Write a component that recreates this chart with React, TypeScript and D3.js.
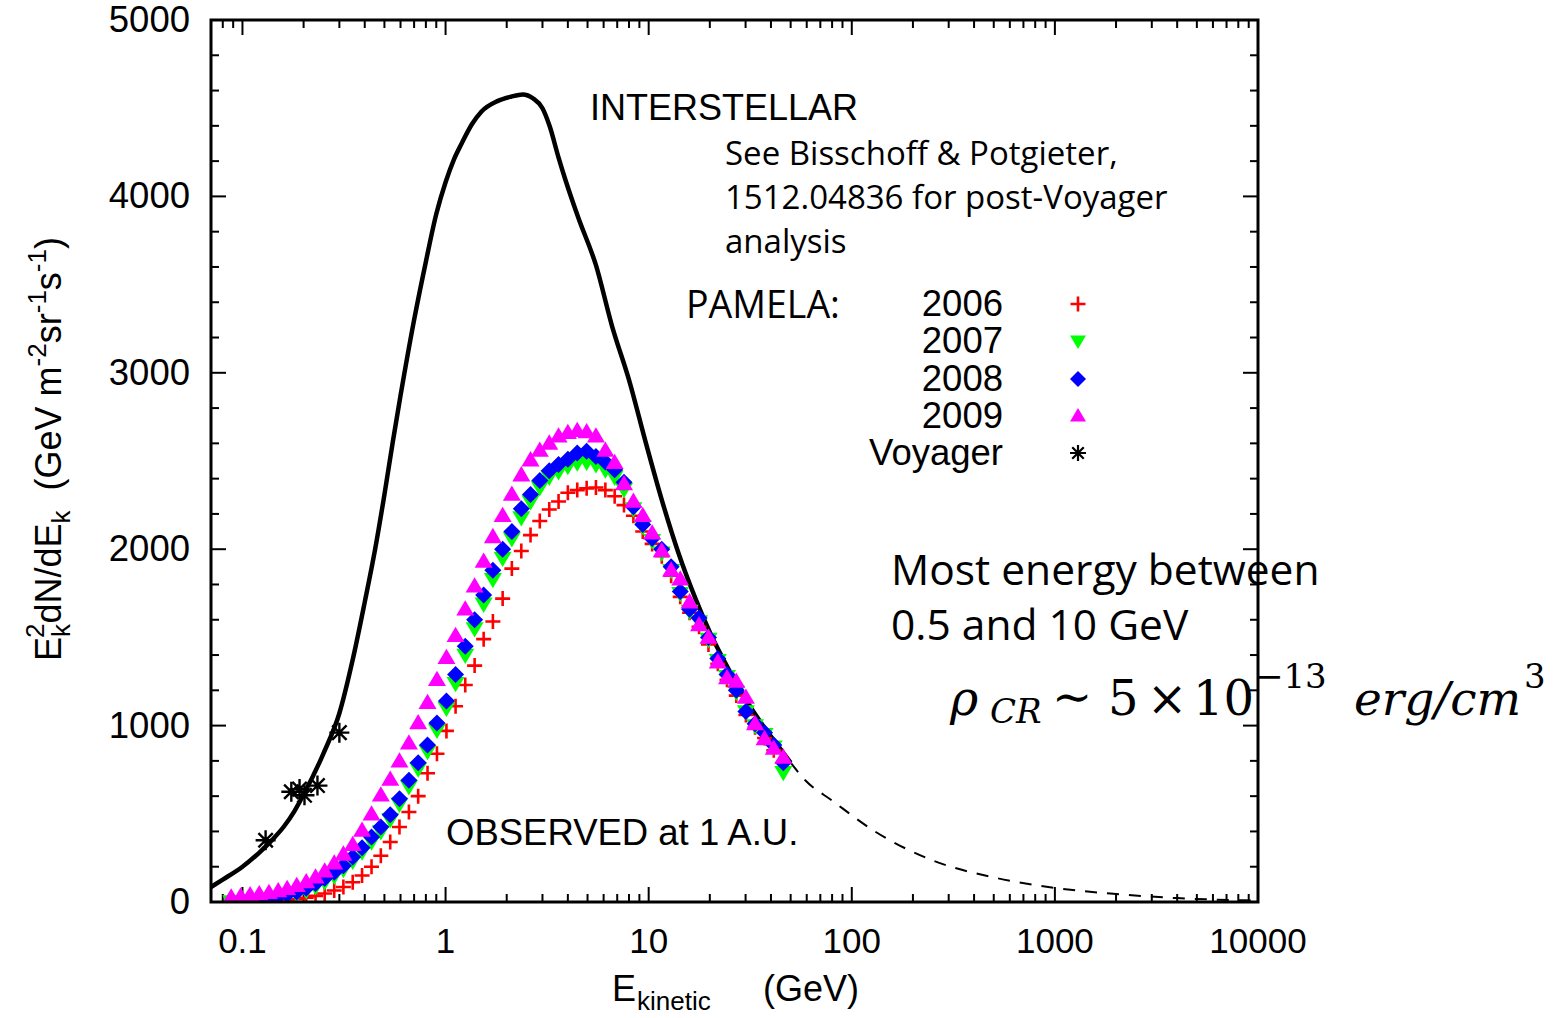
import React from "react";
import * as d3 from "d3";

// ---------- data ----------
const isE = [0.07, 0.08, 0.1, 0.12, 0.14, 0.16, 0.18, 0.2, 0.25, 0.3, 0.35, 0.4, 0.45, 0.5, 0.55, 0.6, 0.7, 0.8, 0.9, 1.0, 1.1, 1.2, 1.35, 1.5, 1.8, 2.1, 2.4, 2.7, 3.0, 3.25, 3.6, 3.9, 4.5, 5.5, 6.6, 8.0, 9.7, 11.6, 14, 17, 20, 25, 30, 36, 44, 50];
const isV = [85, 127, 200, 276, 352, 428, 514, 609, 840, 1070, 1380, 1700, 2000, 2310, 2610, 2870, 3300, 3630, 3900, 4080, 4210, 4300, 4410, 4480, 4540, 4565, 4578, 4555, 4500, 4400, 4220, 4090, 3880, 3610, 3265, 2960, 2600, 2280, 1980, 1720, 1530, 1310, 1150, 1010, 875, 790];
const dsE = [50, 59, 80, 130, 245, 520, 1000, 2000, 4000, 10000];
const dsV = [790, 690, 575, 400, 240, 135, 80, 45, 22, 8];

const pamE = [0.088, 0.098, 0.109, 0.121, 0.135, 0.150, 0.166, 0.185, 0.206, 0.229, 0.254, 0.283, 0.314, 0.349, 0.388, 0.432, 0.480, 0.534, 0.593, 0.660, 0.733, 0.815, 0.907, 1.01, 1.12, 1.25, 1.39, 1.54, 1.71, 1.91, 2.12, 2.36, 2.62, 2.91, 3.24, 3.60, 4.00, 4.45, 4.95, 5.50, 6.12, 6.80, 7.56, 8.41, 9.35, 10.4, 11.6, 12.9, 14.3, 15.9, 17.7, 19.7, 21.9, 24.3, 27.0, 30.1, 33.4, 37.2, 41.3, 46.0];
const p2006 = [0, 0, 1, 2, 4, 7, 11, 16, 24, 35, 48, 65, 85, 112, 150, 200, 262, 340, 425, 510, 600, 730, 840, 970, 1110, 1230, 1340, 1490, 1590, 1720, 1890, 1990, 2080, 2160, 2225, 2270, 2320, 2335, 2345, 2350, 2335, 2300, 2250, 2190, 2100, 2030, 1960, 1850, 1730, 1640, 1560, 1460, 1350, 1260, 1170, 1060, 990, 930, 860, 790];
const p2007 = [2, 4, 8, 13, 19, 26, 35, 47, 65, 88, 115, 148, 185, 232, 285, 342, 400, 468, 555, 655, 755, 855, 975, 1100, 1240, 1400, 1550, 1690, 1830, 1950, 2060, 2180, 2270, 2350, 2410, 2440, 2470, 2490, 2495, 2480, 2450, 2410, 2340, 2230, 2130, 2050, 1980, 1880, 1750, 1650, 1590, 1490, 1370, 1280, 1190, 1080, 1000, 950, 880, 735];
const p2008 = [3, 6, 11, 17, 25, 33, 43, 57, 78, 105, 135, 168, 205, 255, 308, 368, 425, 495, 585, 690, 790, 890, 1015, 1140, 1290, 1450, 1600, 1740, 1880, 2000, 2100, 2230, 2310, 2390, 2445, 2480, 2510, 2545, 2555, 2525, 2495, 2450, 2380, 2240, 2140, 2060, 2000, 1900, 1760, 1660, 1610, 1500, 1380, 1290, 1200, 1080, 1010, 960, 890, 790];
const p2009 = [27, 33, 40, 46, 53, 63, 75, 92, 113, 140, 175, 220, 270, 325, 405, 498, 605, 695, 798, 900, 1015, 1130, 1260, 1385, 1510, 1660, 1790, 1930, 2070, 2190, 2310, 2420, 2505, 2560, 2600, 2640, 2660, 2672, 2665, 2640, 2560, 2490, 2370, 2270, 2190, 2090, 1990, 1880, 1830, 1700, 1570, 1500, 1360, 1270, 1250, 1160, 1010, 925, 870, 820];

const voyE = [0.13, 0.174, 0.191, 0.202, 0.234, 0.30];
const voyV = [350, 625, 640, 605, 660, 960];

const xMajor = [0.1, 1, 10, 100, 1000, 10000];
const xMajorLabels = ["0.1", "1", "10", "100", "1000", "10000"];
const yMajor = [0, 1000, 2000, 3000, 4000, 5000];
const yMajorLabels = ["0", "1000", "2000", "3000", "4000", "5000"];

const legendLabels = ["2006", "2007", "2008", "2009", "Voyager"];

// ---------- layout ----------
const W = 1566, H = 1018;
const L = 211, R = 1258, T = 20, B = 902;
const x = d3.scaleLog().domain([0.07, 10000]).range([L, R]);
const y = d3.scaleLinear().domain([0, 5000]).range([B, T]);

const SANS = "'Liberation Sans', Arial, Helvetica, sans-serif";
const CAL = "'Open Sans', 'Noto Sans', sans-serif";
const SERIF = "'DejaVu Serif', 'Liberation Serif', serif";

function Plus({ cx, cy, s = 7.5 }: any) {
  return <path d={`M${cx - s},${cy}H${cx + s}M${cx},${cy - s}V${cy + s}`} stroke="#ff0000" strokeWidth={2.6} fill="none" />;
}
function TriDown({ cx, cy, s = 9 }: any) {
  return <path d={`M${cx - s},${cy - s * 0.7}L${cx + s},${cy - s * 0.7}L${cx},${cy + s}Z`} fill="#00ff00" />;
}
function Diamond({ cx, cy, s = 8.5 }: any) {
  return <path d={`M${cx},${cy - s}L${cx + s},${cy}L${cx},${cy + s}L${cx - s},${cy}Z`} fill="#0000ff" />;
}
function TriUp({ cx, cy, s = 9 }: any) {
  return <path d={`M${cx - s},${cy + s * 0.7}L${cx + s},${cy + s * 0.7}L${cx},${cy - s}Z`} fill="#ff00ff" />;
}
function Star({ cx, cy, s = 10, w = 2.4 }: any) {
  const d = s * 0.72;
  return (
    <path
      d={`M${cx - s},${cy}H${cx + s}M${cx},${cy - s}V${cy + s}M${cx - d},${cy - d}L${cx + d},${cy + d}M${cx - d},${cy + d}L${cx + d},${cy - d}`}
      stroke="#000" strokeWidth={w} fill="none"
    />
  );
}

export default function App() {
  const line = d3
    .line<[number, number]>()
    .x((d) => x(d[0]))
    .y((d) => y(d[1]))
    .curve(d3.curveMonotoneX);

  const solidPath = line(isE.map((e, i) => [e, isV[i]] as [number, number])) || "";
  const dashPath = line(dsE.map((e, i) => [e, dsV[i]] as [number, number])) || "";

  const xTicks = x.ticks().filter((t) => t >= 0.07 && t <= 10000);
  const isMajorX = (t: number) => Math.abs(Math.log10(t) - Math.round(Math.log10(t))) < 1e-6;
  const yTicks = d3.range(0, 5001, 200);

  const legendY = [304, 341, 379, 416, 453];
  const legendTextY = [316, 353, 391, 428, 465];
  const legendX = 1078;

  return (
    <svg width={W} height={H} style={{ position: "absolute", left: 0, top: 0, background: "#fff" }}>
      <defs>
        <clipPath id="plotclip">
          <rect x={L} y={T} width={R - L} height={B - T} />
        </clipPath>
      </defs>
      <rect x={0} y={0} width={W} height={H} fill="#fff" />

      {/* ticks */}
      <g stroke="#000" strokeWidth={2}>
        {xTicks.map((t, i) => {
          const len = isMajorX(t) ? 15 : 8;
          const px = x(t);
          return (
            <g key={"xt" + i}>
              <line x1={px} x2={px} y1={B} y2={B - len} />
              <line x1={px} x2={px} y1={T} y2={T + len} />
            </g>
          );
        })}
        {yTicks.map((t, i) => {
          const len = t % 1000 === 0 ? 15 : 8;
          const py = y(t);
          return (
            <g key={"yt" + i}>
              <line x1={L} x2={L + len} y1={py} y2={py} />
              <line x1={R} x2={R - len} y1={py} y2={py} />
            </g>
          );
        })}
      </g>

      {/* tick labels */}
      <g fontFamily={SANS} fill="#000">
        {xMajor.map((t, i) => (
          <text key={"xl" + i} x={x(t)} y={953} textAnchor="middle" fontSize={35}>{xMajorLabels[i]}</text>
        ))}
        {yMajor.map((t, i) => (
          <text key={"yl" + i} x={190} y={y(t) + 12} textAnchor="end" fontSize={36.5}>{yMajorLabels[i]}</text>
        ))}
      </g>

      {/* curves */}
      <g clipPath="url(#plotclip)">
        <path d={dashPath} fill="none" stroke="#000" strokeWidth={2} strokeDasharray="12,10" />
        <path d={solidPath} fill="none" stroke="#000" strokeWidth={4.5} />

        {pamE.map((e, i) => <Plus key={"a" + i} cx={x(e)} cy={y(p2006[i])} />)}
        {pamE.map((e, i) => <TriDown key={"b" + i} cx={x(e)} cy={y(p2007[i])} />)}
        {pamE.map((e, i) => <Diamond key={"c" + i} cx={x(e)} cy={y(p2008[i])} />)}
        {pamE.map((e, i) => <TriUp key={"d" + i} cx={x(e)} cy={y(p2009[i])} />)}
        {voyE.map((e, i) => <Star key={"v" + i} cx={x(e)} cy={y(voyV[i])} />)}
      </g>

      {/* frame */}
      <rect x={L} y={T} width={R - L} height={B - T} fill="none" stroke="#000" strokeWidth={3} />

      {/* annotations */}
      <text x={590} y={120} fontFamily={SANS} fontSize={36}>INTERSTELLAR</text>
      <g fontFamily={CAL} fontSize={33}>
        <text x={725} y={165}>See Bisschoff &amp; Potgieter,</text>
        <text x={725} y={209}>1512.04836 for post-Voyager</text>
        <text x={725} y={253}>analysis</text>
      </g>
      <text x={686} y={318} fontFamily={CAL} fontSize={37.5}>PAMELA:</text>
      <g fontFamily={SANS} fontSize={36.5}>
        {legendLabels.map((s, i) => (
          <text key={"lg" + i} x={1003} y={legendTextY[i]} textAnchor="end">{s}</text>
        ))}
      </g>
      <Plus cx={legendX} cy={legendY[0]} />
      <TriDown cx={legendX} cy={legendY[1]} s={8} />
      <Diamond cx={legendX} cy={legendY[2]} s={8} />
      <TriUp cx={legendX} cy={legendY[3]} s={8} />
      <Star cx={legendX} cy={legendY[4]} s={8} w={2.2} />

      <text x={446} y={845} fontFamily={SANS} fontSize={36.5}>OBSERVED at 1 A.U.</text>

      <g fontFamily={CAL} fontSize={42.5}>
        <text x={891} y={585}>Most energy between</text>
        <text x={891} y={640}>0.5 and 10 GeV</text>
      </g>

      {/* math */}
      <g fontFamily={SERIF} fill="#000">
        <text x={950} y={715} fontSize={48} fontStyle="italic">ρ</text>
        <text x={990} y={723} fontSize={34} fontStyle="italic">CR</text>
        <text x={1052} y={713} fontSize={48}>∼</text>
        <text x={1108} y={715} fontSize={48}>5</text>
        <text x={1147} y={715} fontSize={48}>×</text>
        <text x={1193} y={715} fontSize={48}>10</text>
        <text x={1255} y={688} fontSize={34}>−13</text>
        <text x={1354} y={715} fontSize={47} fontStyle="italic">erg/cm</text>
        <text x={1524} y={688} fontSize={34}>3</text>
      </g>

      {/* axis titles */}
      <g fontFamily={SANS} fontSize={36}>
        <text transform="translate(61,449) rotate(-90)" textAnchor="middle">
          E<tspan fontSize={26} dy={9}>k</tspan>
          <tspan fontSize={26} dx={-14} dy={-26}>2</tspan>
          <tspan dy={17}>dN/dE</tspan>
          <tspan fontSize={26} dy={9}>k</tspan>
          <tspan dy={-9}>{"\u00a0\u00a0(GeV m"}</tspan>
          <tspan fontSize={26} dy={-15}>-2</tspan>
          <tspan dy={15}>sr</tspan>
          <tspan fontSize={26} dy={-15}>-1</tspan>
          <tspan dy={15}>s</tspan>
          <tspan fontSize={26} dy={-15}>-1</tspan>
          <tspan dy={15}>)</tspan>
        </text>
        <text x={612} y={1001}>E</text>
        <text x={637} y={1010} fontSize={26}>kinetic</text>
        <text x={763} y={1001}>(GeV)</text>
      </g>
    </svg>
  );
}
